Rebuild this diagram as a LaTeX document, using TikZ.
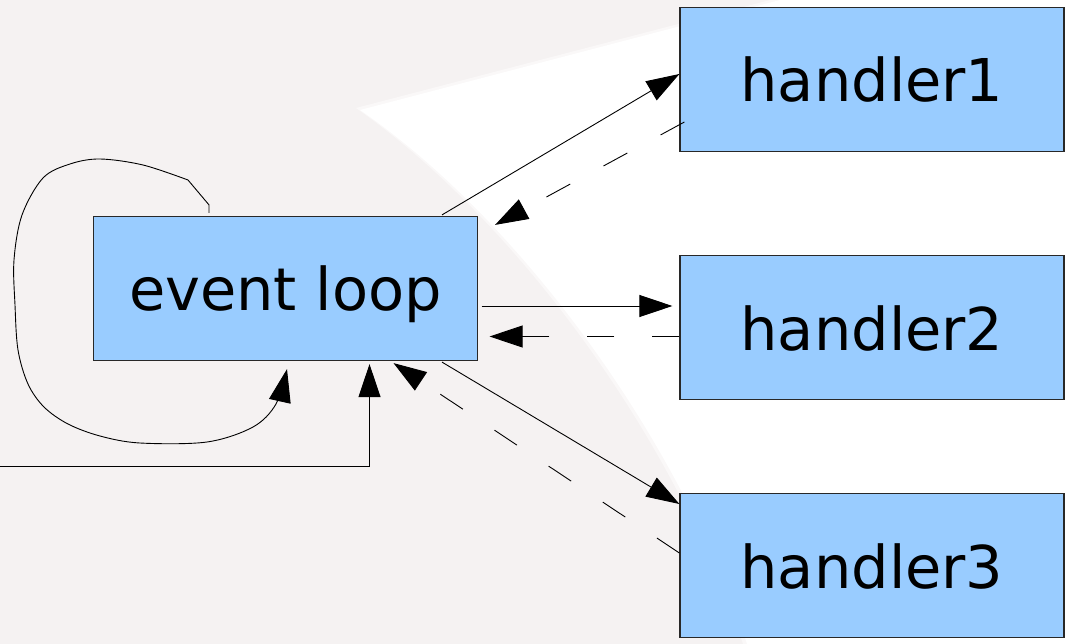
\documentclass[tikz,border=0pt]{standalone}
\usepackage{fontspec}
\newfontfamily\boxfont{DejaVu Sans}
\usetikzlibrary{arrows.meta,calc}
\definecolor{bggray}{RGB}{245,242,242}
\definecolor{boxblue}{RGB}{153,204,255}
\definecolor{boxedge}{RGB}{40,40,40}

\begin{document}
\begin{tikzpicture}[x=1pt,y=-1pt,
  box/.style={draw=boxedge, fill=boxblue, line width=1.2pt,
    minimum width=384pt, minimum height=144pt, inner sep=0pt,
    text height=45pt, text depth=0pt,
    font=\boxfont\fontsize{59}{70}\selectfont},
  flow/.style={line width=0.9pt, -{Triangle[length=33pt,width=22pt]}},
  reply/.style={flow, dash pattern=on 27pt off 38pt},
]
\useasboundingbox (0,0) rectangle (1071,644);

% backdrop: grey page with a large white sweep on the right
\fill[bggray] (0,0) rectangle (1071,644);
\fill[white, opacity=0.5] (356,108) -- (778,-2) -- (1071,-2) -- (1071,644) -- (743,644)
  .. controls (676,440) and (516,220) .. cycle;
\fill[white] (360,110) -- (780,0) -- (1071,0) -- (1071,644) -- (747,644)
  .. controls (680,440) and (520,220) .. cycle;

% boxes
\node[box] (el) at (285.5,288.5) {event loop};
\node[box] (h1) at (872,79.5) {handler1};
\node[box] (h2) at (872,327.5) {handler2};
\node[box] (h3) at (872,565.5) {handler3};

% dispatch to the handlers
\draw[flow] ($(el.north)+(156.5,-1)$) -- ($(h1.west)+(0,-5.5)$);
\draw[flow] ($(el.east)+(3.5,17.5)$) -- ($(h2.west)+(-7,-21.5)$);
\draw[flow] ($(el.south)+(156.5,1)$) -- ($(h3.west)+(0,-61.5)$);

% replies back to the loop
\draw[reply] ($(h1.west)+(5,42.5)$) -- ($(el.north east)+(17,9)$);
\draw[reply] ($(h2.west)+(0,9)$) -- ($(el.east)+(11.5,48)$);
\draw[reply] ($(h3.west)+(0,-12.5)$) -- ($(el.south)+(108,2)$);

% the loop turning on itself
\coordinate (loopout) at ($(el.north)+(-76.5,-3)$);
\coordinate (loopin) at ($(el.south)+(1.5,8)$);
\draw[flow] (loopout) -- ++(0,-8) -- plot[smooth, tension=0.55] coordinates {
  (188,180) (143,165) (100,159) (70,164) (43,178) (22,215) (14,260)
  (15,305) (18,350) (28,384) (44,407) (68,424) (100,436) (140,443)
  (207,442) (253,427) (276,404) (loopin)};

% incoming events from the left
\coordinate (in) at (0,466);
\draw[flow] (in) -| ($(el.south)+(84,3)$);
\end{tikzpicture}
\end{document}
